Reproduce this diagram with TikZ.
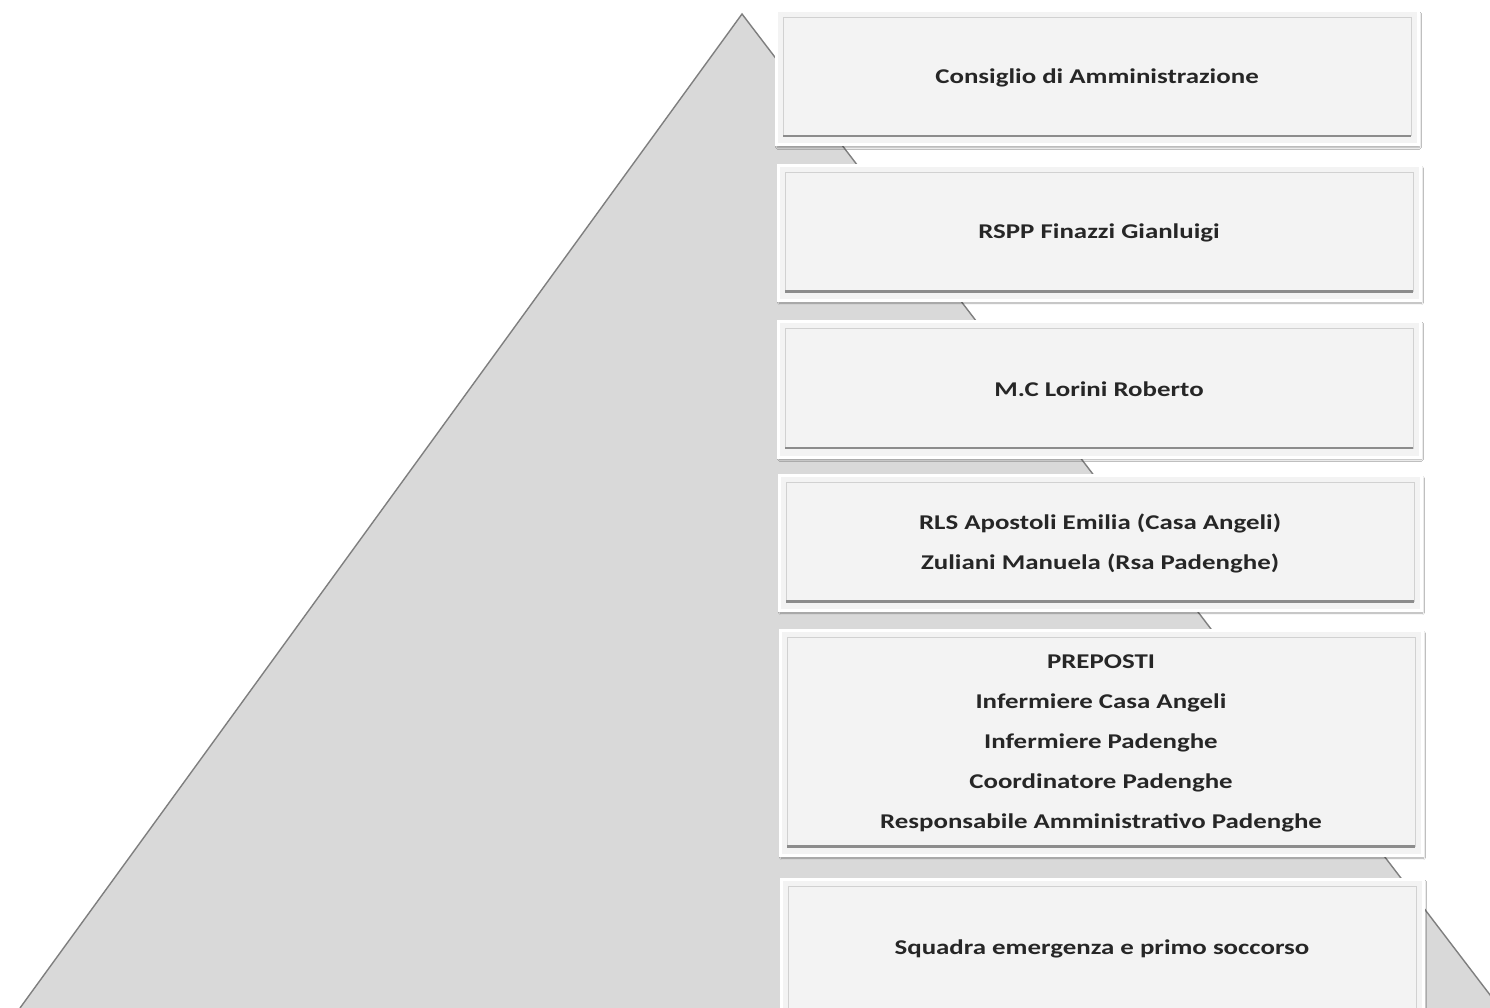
\documentclass[tikz,border=0pt]{standalone}
\usepackage{fontspec}
\setmainfont{Carlito}[FakeStretch=1.28]
\usetikzlibrary{shadows.blur}
\definecolor{trifill}{HTML}{D9D9D9}
\definecolor{triline}{HTML}{7F7F7F}
\definecolor{boxfill}{HTML}{F3F3F3}
\tikzset{
  level/.style={draw=white, line width=3pt, fill=boxfill, minimum width=642pt,
    align=center, font=\fontsize{21}{40}\selectfont\bfseries, text=black!85,
    blur shadow={shadow xshift=1.5pt, shadow yshift=-2.5pt, shadow blur steps=6, shadow opacity=35},
    path picture={
      \draw[black!18, line width=1pt]
        ([xshift=7pt,yshift=9pt]path picture bounding box.south west) rectangle
        ([xshift=-7pt,yshift=-7pt]path picture bounding box.north east);
      \draw[black!45, line width=2.5pt]
        ([xshift=7pt,yshift=9pt]path picture bounding box.south west) --
        ([xshift=-7pt,yshift=9pt]path picture bounding box.south east);
    }},
}
\begin{document}
\begin{tikzpicture}[x=1pt,y=-1pt]
\useasboundingbox (0,0) rectangle (1490,1008);
\fill[white] (0,0) rectangle (1490,1008);
\coordinate (apex) at (742,14);
\coordinate (bl) at (20,1008);
\coordinate (br) at (1500,1008);
\filldraw[fill=trifill, draw=triline, line width=1.4pt, line join=miter] (bl) -- (apex) -- (br);
\node[level, minimum height=134pt] (b1) at (1097,78) {Consiglio di Amministrazione};
\node[level, minimum height=135pt] (b2) at (1099,233) {RSPP Finazzi Gianluigi};
\node[level, minimum height=136pt] (b3) at (1099,389) {M.C Lorini Roberto};
\node[level, minimum height=135pt] (b4) at (1100,543) {RLS Apostoli Emilia (Casa Angeli)\\Zuliani Manuela (Rsa Padenghe)};
\node[level, minimum height=225pt] (b5) at (1101,743) {PREPOSTI\\Infermiere Casa Angeli\\Infermiere Padenghe\\Coordinatore Padenghe\\Responsabile Amministrativo Padenghe};
\node[level, minimum height=140pt] (b6) at (1102,949) {Squadra emergenza e primo soccorso};
\end{tikzpicture}
\end{document}
